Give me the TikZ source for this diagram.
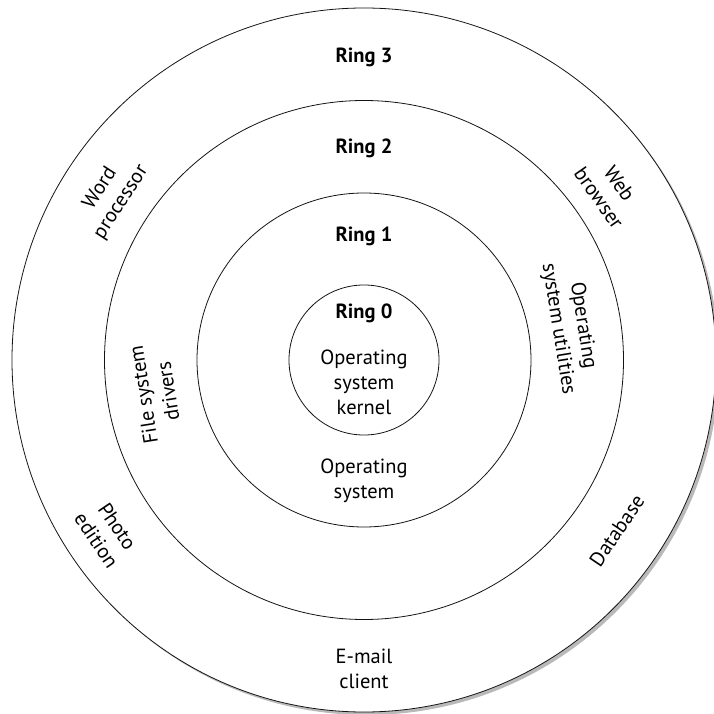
\documentclass[tikz,border=0pt]{standalone}
\usepackage{fontspec}
\setmainfont{PT Sans}
\usepackage{tikz}
\usetikzlibrary{positioning}
\definecolor{ringline}{RGB}{20, 20, 20}
\definecolor{shadowgray}{RGB}{185, 185, 185}

\begin{document}
\begin{tikzpicture}[x=1pt, y=1pt, every node/.style={font=\fontsize{20.5}{25}\selectfont},
  ring/.style={circle, draw=ringline, line width=0.8pt, inner sep=0pt},
  ringname/.style={font=\fontsize{20.5}{25}\selectfont\bfseries},
  tag/.style={align=center}]
\useasboundingbox (-364,-354) rectangle (349,360);

% Outer ring with its shadow
\node[circle, fill=shadowgray, inner sep=0pt, minimum size=704pt] at (3,-3) (shadow) {};
\node[ring, fill=white, minimum size=704pt] at (0,0) (ring3) {};

% Inner rings
\node[ring, minimum size=519pt] at (0,0) (ring2) {};
\node[ring, minimum size=334pt] at (0,0) (ring1) {};
\node[ring, minimum size=150pt] at (0,0) (ring0) {};

% Ring names
\node[ringname] at (0,303) (name3) {Ring 3};
\node[ringname] at (0,212) (name2) {Ring 2};
\node[ringname] at (0,124) (name1) {Ring 1};
\node[ringname] at (0,47) (name0) {Ring 0};

% Ring 0 and ring 1
\node[tag] at (0,-22) (kernel) {Operating\\system\\kernel};
\node[tag] at (0,-121) (os) {Operating\\system};

% Ring 2
\node[tag, rotate=-81] at (9:209) (utils) {Operating\\system utilities};
\node[tag, rotate=99] at (189:211) (drivers) {File system\\drivers};

% Ring 3
\node[tag, rotate=57] at (147:302) (word) {Word\\processor};
\node[tag, rotate=-55] at (34.6:298) (web) {Web\\browser};
\node[tag, rotate=-56] at (214:310) (photo) {Photo\\edition};
\node[tag, rotate=56] at (-34:305) (db) {Database};
\node[tag] at (0,-309) (mail) {E-mail\\client};
\end{tikzpicture}
\end{document}
